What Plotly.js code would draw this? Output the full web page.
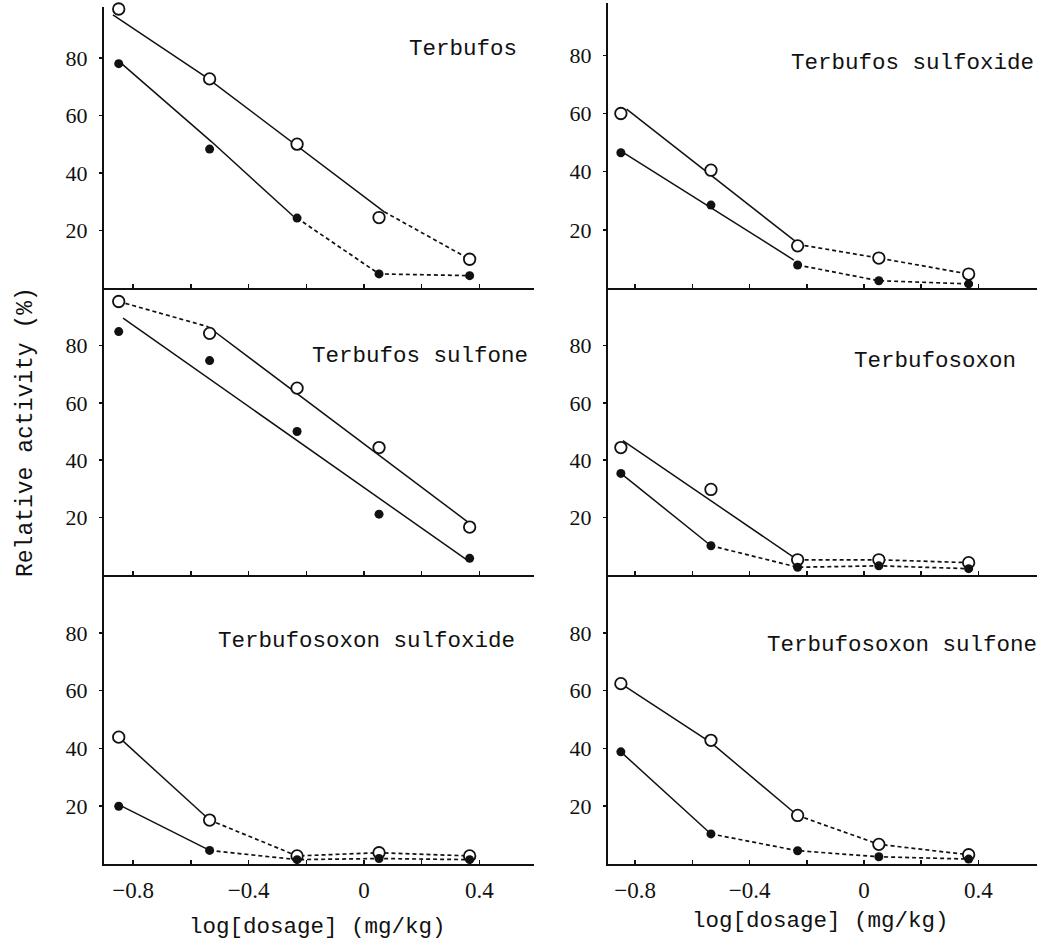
<!DOCTYPE html>
<html>
<head>
<meta charset="utf-8">
<script src="https://cdn.plot.ly/plotly-3.0.1.min.js"></script>
<style>html,body{margin:0;padding:0;background:#fff;}#chart{width:1044px;height:939px;}</style>
</head>
<body>
<div id="chart"></div>
<script>
// ---- data ----
const dose = [-0.85, -0.535, -0.232, 0.052, 0.366];
const xTickVals = [-0.8, -0.6, -0.4, -0.2, 0, 0.2, 0.4];
const xTickText = ['\u22120.8', '', '\u22120.4', '', '0', '', '0.4'];
const yTickVals = [20, 40, 60, 80];
const panelNames = ['Terbufos', 'Terbufos sulfoxide', 'Terbufos sulfone', 'Terbufosoxon', 'Terbufosoxon sulfoxide', 'Terbufosoxon sulfone'];

// Terbufos
const tOpen = [97, 72.7, 50, 24.5, 10];
const tFilled = [78, 48.3, 24.3, 4.9, 4.3];
const tOpenSolidX = [-0.87, -0.55, 0.07], tOpenSolidY = [95, 73.5, 26.5];
const tOpenDotX = [0.07, 0.366], tOpenDotY = [26.5, 10];
const tFilledSolidX = [-0.84, -0.53, -0.24], tFilledSolidY = [78, 51, 24.5];
const tFilledDotX = [-0.232, 0.052, 0.366], tFilledDotY = [24.3, 4.9, 4.3];

// Terbufos sulfoxide
const tsoOpen = [60, 40.5, 14.5, 10.3, 4.8];
const tsoFilled = [46.5, 28.5, 7.9, 2.5, 1.4];
const tsoOpenSolidX = [-0.83, -0.234], tsoOpenSolidY = [61.5, 15.6];
const tsoOpenDotX = [-0.232, 0.052, 0.366], tsoOpenDotY = [15, 10.3, 4.8];
const tsoFilledSolidX = [-0.84, -0.245], tsoFilledSolidY = [46.5, 9.6];
const tsoFilledDotX = [-0.232, 0.052, 0.366], tsoFilledDotY = [7.9, 2.5, 1.4];

// Terbufos sulfone
const tsnOpen = [95.3, 84.2, 65.1, 44.4, 16.7];
const tsnFilled = [84.8, 74.7, 50, 21.2, 5.8];
const tsnOpenSolidX = [-0.54, 0.366], tsnOpenSolidY = [86.5, 18];
const tsnOpenDotX = [-0.85, -0.54], tsnOpenDotY = [95.3, 86.5];
const tsnFilledSolidX = [-0.835, 0.36], tsnFilledSolidY = [89.5, 5];
const tsnFilledDotX = [], tsnFilledDotY = [];

// Terbufosoxon
const toOpen = [44.4, 29.8, 5.3, 5.3, 4.3];
const toFilled = [35.4, 10.2, 2.7, 3.2, 2.2];
const toOpenSolidX = [-0.843, -0.24], toOpenSolidY = [46.8, 5.8];
const toOpenDotX = [-0.232, 0.052, 0.366], toOpenDotY = [5.3, 5.3, 4.3];
const toFilledSolidX = [-0.85, -0.535], toFilledSolidY = [35.4, 10.2];
const toFilledDotX = [-0.535, -0.232, 0.052, 0.366], toFilledDotY = [10.2, 2.7, 3.2, 2.2];

// Terbufosoxon sulfoxide
const tosoOpen = [43.9, 15.2, 2.8, 3.9, 2.8];
const tosoFilled = [20, 4.7, 1.5, 1.9, 1.5];
const tosoOpenSolidX = [-0.85, -0.535], tosoOpenSolidY = [43.9, 15.2];
const tosoOpenDotX = [-0.535, -0.232, 0.052, 0.366], tosoOpenDotY = [15.2, 2.8, 3.9, 2.8];
const tosoFilledSolidX = [-0.84, -0.535], tosoFilledSolidY = [20, 4.7];
const tosoFilledDotX = [-0.535, -0.232, 0.052, 0.366], tosoFilledDotY = [4.7, 1.5, 1.9, 1.5];

// Terbufosoxon sulfone
const tosnOpen = [62.4, 42.8, 16.8, 6.8, 3.2];
const tosnFilled = [38.8, 10.4, 4.6, 2.5, 1.7];
const tosnOpenSolidX = [-0.85, -0.535, -0.232], tosnOpenSolidY = [62.4, 42, 16.8];
const tosnOpenDotX = [-0.232, 0.052, 0.366], tosnOpenDotY = [16.8, 6.8, 3.2];
const tosnFilledSolidX = [-0.85, -0.535], tosnFilledSolidY = [38.8, 10.4];
const tosnFilledDotX = [-0.535, -0.232, 0.052, 0.366], tosnFilledDotY = [10.4, 4.6, 2.5, 1.7];

// label anchor positions (data coords)
const labelX = [0.343, 0.168, 0.194, 0.248, 0.01, 0.133];
const labelY = [83, 77.3, 76.2, 74.4, 77, 75.9];

// ---- layout geometry (pixels) ----
const W = 1044, H = 939;
const colPx = [[104, 534, [-0.901, 0.589]], [608, 1037, [-0.895, 0.605]]];
const rowPx = [[[7, 288, 97.7], [3, 288, 98]], [[288, 575, 100], [288, 575, 100]], [[575, 864, 100], [575, 864, 100]]];
const xTitleY = [927, 921];

const panels = [
  [tOpen, tFilled, tOpenSolidX, tOpenSolidY, tOpenDotX, tOpenDotY, tFilledSolidX, tFilledSolidY, tFilledDotX, tFilledDotY],
  [tsoOpen, tsoFilled, tsoOpenSolidX, tsoOpenSolidY, tsoOpenDotX, tsoOpenDotY, tsoFilledSolidX, tsoFilledSolidY, tsoFilledDotX, tsoFilledDotY],
  [tsnOpen, tsnFilled, tsnOpenSolidX, tsnOpenSolidY, tsnOpenDotX, tsnOpenDotY, tsnFilledSolidX, tsnFilledSolidY, tsnFilledDotX, tsnFilledDotY],
  [toOpen, toFilled, toOpenSolidX, toOpenSolidY, toOpenDotX, toOpenDotY, toFilledSolidX, toFilledSolidY, toFilledDotX, toFilledDotY],
  [tosoOpen, tosoFilled, tosoOpenSolidX, tosoOpenSolidY, tosoOpenDotX, tosoOpenDotY, tosoFilledSolidX, tosoFilledSolidY, tosoFilledDotX, tosoFilledDotY],
  [tosnOpen, tosnFilled, tosnOpenSolidX, tosnOpenSolidY, tosnOpenDotX, tosnOpenDotY, tosnFilledSolidX, tosnFilledSolidY, tosnFilledDotX, tosnFilledDotY]
];

const ink = '#111';
const traces = [];
const layout = {
  width: W, height: H, margin: {l: 0, r: 0, t: 0, b: 0},
  paper_bgcolor: '#fff', plot_bgcolor: 'rgba(0,0,0,0)',
  showlegend: false, annotations: []
};
const monoFont = "Liberation Mono";
const serifFont = "Liberation Serif";

panels.forEach((p, i) => {
  const n = i + 1;
  const row = Math.floor(i / 2), col = i % 2;
  const xs = n === 1 ? '' : String(n);
  const xa = 'x' + xs, ya = 'y' + xs;
  const [x0, x1, xr] = colPx[col];
  const [yTop, yBot, yMax] = rowPx[row][col];
  const bottom = row === 2;
  layout['xaxis' + xs] = {
    domain: [x0 / W, x1 / W], range: xr, anchor: ya,
    showline: true, linewidth: 2, linecolor: ink,
    ticks: 'inside', ticklen: 4, tickwidth: 1.5, tickcolor: ink,
    tickvals: xTickVals, ticktext: xTickText, showticklabels: bottom,
    ticklabelstandoff: 4,
    tickfont: {family: serifFont, size: 23, color: ink},
    showgrid: false, zeroline: false, fixedrange: true
  };
  layout['yaxis' + xs] = {
    domain: [1 - yBot / H, 1 - yTop / H], range: [0, yMax], anchor: xa,
    showline: true, linewidth: 2, linecolor: ink,
    ticks: 'outside', ticklen: 3, tickwidth: 1.5, tickcolor: ink,
    ticklabelstandoff: 7,
    tickvals: yTickVals, tickfont: {family: serifFont, size: 22, color: ink},
    showgrid: false, zeroline: false, fixedrange: true
  };
  const [op, fi, osx, osy, odx, ody, fsx, fsy, fdx, fdy] = p;
  const solid = {color: ink, width: 1.5};
  const dotted = {color: ink, width: 1.7, dash: '4px,3px'};
  traces.push({x: osx, y: osy, xaxis: xa, yaxis: ya, mode: 'lines', line: solid, hoverinfo: 'skip'});
  traces.push({x: odx, y: ody, xaxis: xa, yaxis: ya, mode: 'lines', line: dotted, hoverinfo: 'skip'});
  traces.push({x: fsx, y: fsy, xaxis: xa, yaxis: ya, mode: 'lines', line: solid, hoverinfo: 'skip'});
  traces.push({x: fdx, y: fdy, xaxis: xa, yaxis: ya, mode: 'lines', line: dotted, hoverinfo: 'skip'});
  traces.push({x: dose, y: op, xaxis: xa, yaxis: ya, mode: 'markers', cliponaxis: false,
    marker: {symbol: 'circle', size: 11.5, color: '#fff', line: {color: ink, width: 1.8}}});
  traces.push({x: dose, y: fi, xaxis: xa, yaxis: ya, mode: 'markers', cliponaxis: false,
    marker: {symbol: 'circle', size: 9, color: ink, line: {color: ink, width: 0}}});
  layout.annotations.push({
    xref: xa, yref: ya, x: labelX[i], y: labelY[i], text: panelNames[i], showarrow: false,
    xanchor: 'center', yanchor: 'middle', font: {family: monoFont, size: 22.5, color: ink}
  });
  if (bottom) {
    layout.annotations.push({
      xref: 'paper', yref: 'paper', x: ((x0 + x1) / 2 - 2) / W, y: 1 - xTitleY[col] / H,
      text: 'log[dosage] (mg/kg)', showarrow: false, xanchor: 'center', yanchor: 'middle',
      font: {family: monoFont, size: 22.5, color: ink}
    });
  }
});

layout.annotations.push({
  xref: 'paper', yref: 'paper', x: 26 / W, y: 1 - 432 / H, text: 'Relative activity (%)',
  textangle: -90, showarrow: false, xanchor: 'center', yanchor: 'middle',
  font: {family: monoFont, size: 23, color: ink}
});

Plotly.newPlot('chart', traces, layout, {staticPlot: true, displayModeBar: false});
</script>
</body>
</html>
